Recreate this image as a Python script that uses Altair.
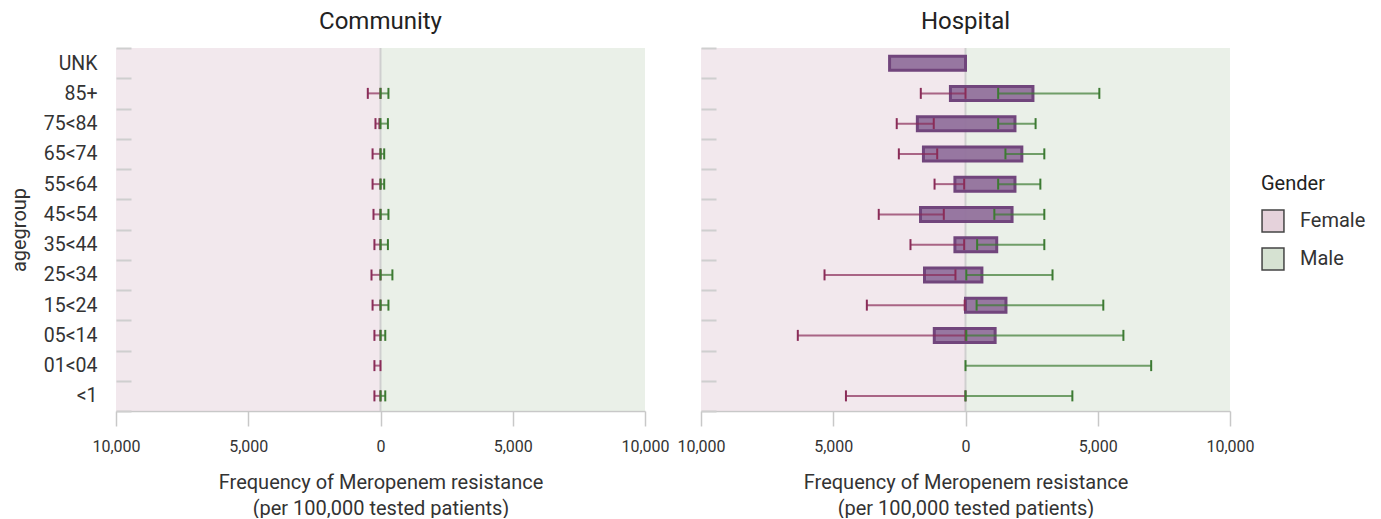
import altair as alt
import pandas as pd

agegroups = ["UNK", "85+", "75<84", "65<74", "55<64", "45<54", "35<44",
             "25<34", "15<24", "05<14", "01<04", "<1"]

# Community panel: error bars (female on negative side, male on positive side)
comm_f_lo = [None, -480, -190, -300, -300, -265, -230, -340, -300, -230, -230, -230]
comm_f_hi = [None, 0, -40, 0, 0, 0, 0, 0, 0, 0, 0, 0]
comm_m_lo = [None, 0, 0, 0, 0, 0, 0, 0, 0, 0, None, 0]
comm_m_hi = [None, 300, 280, 140, 140, 300, 280, 450, 300, 180, None, 180]

# Hospital panel: boxes (female estimate -> male estimate)
hosp_box_lo = [-2870, -570, -1820, -1590, -400, -1700, -400, -1550, 0, -1180, None, None]
hosp_box_hi = [0, 2550, 1870, 2130, 1870, 1760, 1180, 620, 1530, 1120, None, None]
# Hospital panel: error bars
hosp_f_lo = [None, -1690, -2600, -2520, -1170, -3280, -2080, -5330, -3730, -6340, None, -4520]
hosp_f_hi = [None, 0, -1200, -1070, -50, -820, -50, -380, -30, 0, None, 0]
hosp_m_lo = [None, 1235, 1235, 1510, 1235, 1090, 440, 30, 420, 30, 0, 0]
hosp_m_hi = [None, 5060, 2650, 2980, 2830, 2980, 2980, 3290, 5210, 5970, 7020, 4040]

genders = ["Female", "Male"]
bg_lo = [-10000, 0]
bg_hi = [0, 10000]
x_ticks = [-10000, -5000, 0, 5000, 10000]

FONT = "Roboto"
F_COL = "#8a2c58"
M_COL = "#3c7a32"
TXT = "#333333"


def frame(lo, hi):
    df = pd.DataFrame({"agegroup": agegroups, "lo": lo, "hi": hi})
    return df.dropna()


def panel(title, f_lo, f_hi, m_lo, m_hi, box_lo=None, box_hi=None, left=True):
    yscale = alt.Scale(domain=agegroups, paddingInner=0, paddingOuter=0)
    yaxis = alt.Axis(
        domain=False, tickBand="extent", offset=-15, tickSize=15,
        tickColor="#cfcfcf", tickWidth=2, labelPadding=19, labelFontSize=19.5,
        labelColor=TXT, labelOpacity=1 if left else 0, title="agegroup",
        titleOpacity=1 if left else 0,
        titleFontSize=20, titleFontWeight="normal", titleColor=TXT,
        titlePadding=14, zindex=1,
    )
    xaxis = alt.Axis(
        values=x_ticks, labelExpr="format(abs(datum.value), ',')",
        tickSize=15, tickColor="#c8c8c8", tickWidth=1.5, domainColor="#c8c8c8",
        domainWidth=1.5, labelPadding=12, labelFontSize=16, labelColor=TXT,
        labelOverlap=False, labelFlush=False, grid=False,
        title=["Frequency of Meropenem resistance", "(per 100,000 tested patients)"],
        titleFontSize=20, titleFontWeight="normal", titleColor=TXT,
        titlePadding=18, titleLineHeight=26,
    )
    xscale = alt.Scale(domain=[-10000, 10000], nice=False)

    bg_df = pd.DataFrame({"Gender": genders, "lo": bg_lo, "hi": bg_hi})
    bg = alt.Chart(bg_df).mark_rect(opacity=0.5).encode(
        x=alt.X("lo:Q", scale=xscale, axis=xaxis),
        x2="hi:Q",
        color=alt.Color(
            "Gender:N",
            scale=alt.Scale(domain=genders, range=["#e5d2db", "#d6e2d2"]),
            legend=alt.Legend(
                title="Gender", orient="none", legendX=1145, legendY=126,
                titleAnchor="start",
                symbolType="square", symbolSize=480, symbolStrokeColor="#444",
                symbolStrokeWidth=1.5, symbolOpacity=1, labelFontSize=20,
                titleFontSize=20, titleFontWeight="normal", titleColor="#222",
                labelColor=TXT, rowPadding=10, labelOffset=15, titlePadding=15,
            ),
        ),
    )
    zero = alt.Chart(pd.DataFrame({"z": [0]})).mark_rule(
        color="#cfcfcf", strokeWidth=2
    ).encode(x=alt.X("z:Q", scale=xscale))

    layers = [bg, zero]
    y = alt.Y("agegroup:N", sort=agegroups, scale=yscale, axis=yaxis)
    if box_lo is not None:
        box = alt.Chart(frame(box_lo, box_hi)).mark_bar(
            size=14, color="#93729d", stroke="#6b3d77", strokeWidth=3,
            opacity=0.95,
        ).encode(x=alt.X("lo:Q", scale=xscale), x2="hi:Q", y=y)
        layers.append(box)

    for lo, hi, col in [(f_lo, f_hi, F_COL), (m_lo, m_hi, M_COL)]:
        df = frame(lo, hi)
        line = alt.Chart(df).mark_rule(color=col, strokeWidth=2, opacity=0.7).encode(
            x=alt.X("lo:Q", scale=xscale), x2="hi:Q", y=y)
        cap1 = alt.Chart(df).mark_tick(color=col, size=11, thickness=2, opacity=1).encode(
            x=alt.X("lo:Q", scale=xscale), y=y)
        cap2 = alt.Chart(df).mark_tick(color=col, size=11, thickness=2, opacity=1).encode(
            x=alt.X("hi:Q", scale=xscale), y=y)
        layers += [line, cap1, cap2]

    return alt.layer(*layers).properties(
        width=529, height=363,
        title=alt.TitleParams(title, fontSize=24, fontWeight="normal",
                              color="#222", offset=4, font=FONT),
    )


left = panel("Community", comm_f_lo, comm_f_hi, comm_m_lo, comm_m_hi, left=True)
right = panel("Hospital", hosp_f_lo, hosp_f_hi, hosp_m_lo, hosp_m_hi,
              hosp_box_lo, hosp_box_hi, left=False)

chart = alt.hconcat(left, right, spacing=56, bounds="flush").configure(
    font=FONT, padding={"left": 1, "top": 2, "right": 0, "bottom": 0}
).configure_view(stroke=None)

chart.save("out.html", embed_options={"renderer": "svg", "actions": False})
